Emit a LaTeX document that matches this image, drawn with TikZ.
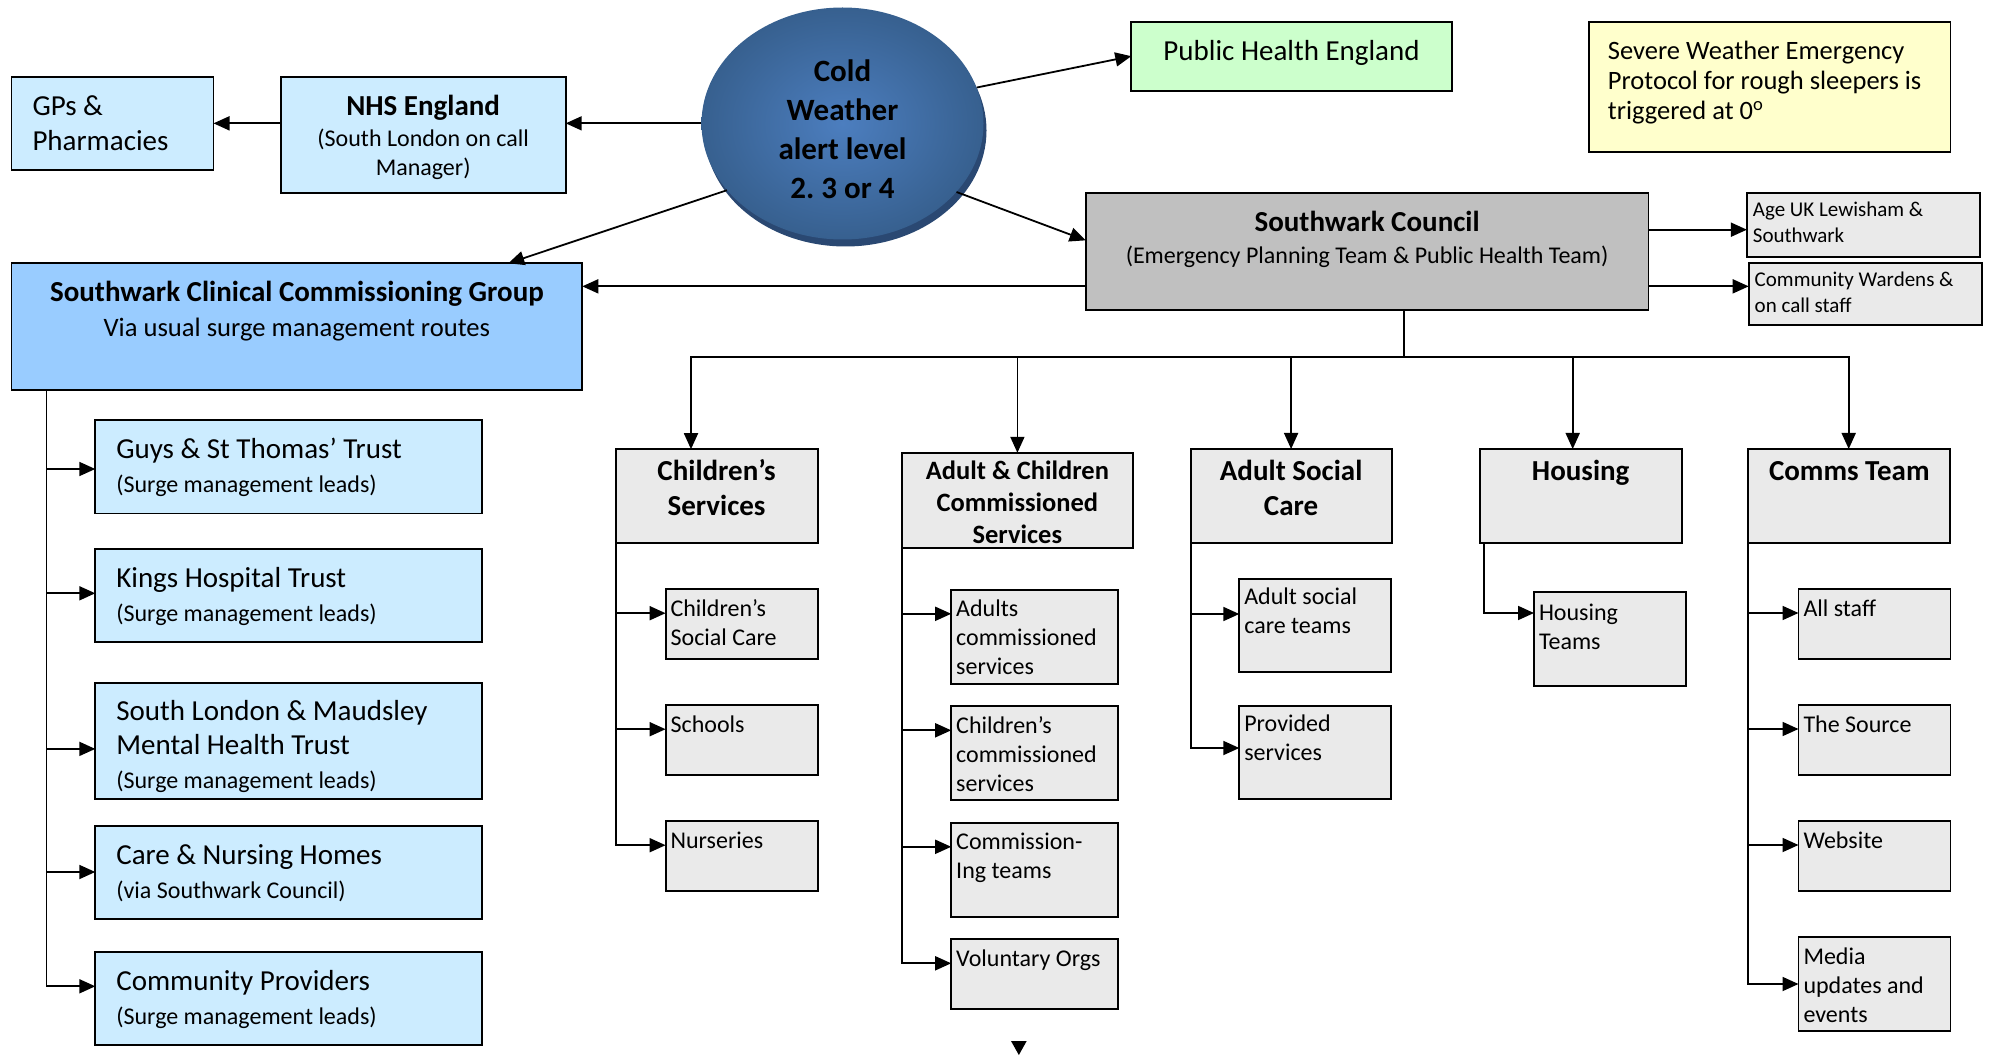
\documentclass[tikz,border=0pt]{standalone}
\usepackage{fontspec}
\setmainfont{Carlito}
\usepackage{tikz}
\usetikzlibrary{arrows.meta,positioning,shapes.geometric,shadows}
\definecolor{nhsblue}{HTML}{CCECFF}
\definecolor{ccgblue}{HTML}{99CCFF}
\definecolor{phegreen}{HTML}{CCFFCC}
\definecolor{swepyellow}{HTML}{FFFFCC}
\definecolor{councilgrey}{HTML}{C0C0C0}
\definecolor{cellgrey}{HTML}{EAEAEA}
\definecolor{alertlight}{HTML}{4C7EBF}
\definecolor{alertdark}{HTML}{37608F}
\definecolor{alertshade}{HTML}{2A4872}
\newcommand\txtL{\fontsize{29}{35}\selectfont}
\newcommand\txtM{\fontsize{26.5}{30}\selectfont}
\newcommand\txtS{\fontsize{24}{29}\selectfont}
\newcommand\txtXS{\fontsize{21}{26.7}\selectfont}
\frenchspacing
\tikzset{
  box/.style={draw=black, line width=1.8pt, outer sep=0pt, anchor=north west, inner xsep=5pt, inner ysep=0pt, align=flush left},
  trust/.style={box, fill=nhsblue, inner xsep=21pt, text width=345pt, text height=38pt, text depth=#1, font=\fontsize{29}{34}\selectfont},
  trust/.default=55pt,
  head/.style={box, fill=cellgrey, align=flush center, text width=192pt, text height=31pt, text depth=63pt, font=\txtL\bfseries},
  cell/.style={box, fill=cellgrey, text width=142pt, text height=27pt, text depth=#1, font=\txtS},
  cell/.default=43pt,
  alert/.style={ellipse, inner sep=0pt, minimum width=282pt, minimum height=232pt, inner color=alertlight, outer color=alertdark,
    drop shadow={fill=alertshade, opacity=1, shadow xshift=3pt, shadow yshift=-7pt},
    align=flush center, text width=160pt, text height=22pt, text depth=105.8pt, font=\fontsize{31}{38.9}\selectfont\bfseries},
  arrow/.style={-{Triangle[length=16pt, width=14pt]}, line width=1.8pt},
  twoway/.style={{Triangle[length=16pt, width=14pt]}-{Triangle[length=16pt, width=14pt]}, line width=1.8pt},
  link/.style={line width=1.8pt}
}
\begin{document}
\begin{tikzpicture}[x=1pt, y=1pt, node distance=46pt, font=\txtS]
  \useasboundingbox (0,0) rectangle (1995,-1056);

  \node[alert] (alert) at (842.5,-123.5) {Cold\\Weather\\alert level\\2. 3 or 4};
  \node[box, fill=nhsblue, inner xsep=21pt, text width=160pt, text height=38.7pt, text depth=54.6pt, font=\txtL] (gps) at (11.5,-76.7) {GPs \&\\Pharmacies};
  \node[box, fill=nhsblue, align=flush center, text width=275.1pt, text height=38.7pt, text depth=77.9pt] (nhs) at (280.6,-76.7) {{\txtL\bfseries NHS England}\\[2pt](South London on call\\Manager)};
  \node[box, fill=phegreen, align=flush center, text width=310.5pt, text height=38.7pt, text depth=30.3pt, font=\txtL] (phe) at (1131.3,-21.7) {Public Health England};
  \node[box, fill=swepyellow, inner xsep=19pt, text width=323.6pt, text height=38pt, text depth=92pt, font=\txtM] (swep) at (1588.9,-21.7) {Severe Weather Emergency\\Protocol for rough sleepers is\\triggered at 0\textsuperscript{o}};
  \node[box, fill=ccgblue, align=flush center, text width=560.8pt, text height=38.4pt, text depth=88.3pt, font=\fontsize{26.6}{35}\selectfont] (ccg) at (11.5,-263.3) {{\txtL\bfseries Southwark Clinical Commissioning Group}\\Via usual surge management routes};
  \node[box, fill=councilgrey, align=flush center, text width=552.8pt, text height=39.3pt, text depth=78pt, font=\fontsize{24}{31.7}\selectfont] (council) at (1085.7,-192.7) {{\txtL\bfseries Southwark Council}\\(Emergency Planning Team \& Public Health Team)};
  \node[box, fill=cellgrey, inner xsep=6pt, text width=221.4pt, text height=23.6pt, text depth=40.4pt, font=\txtXS] (ageuk) at (1746.9,-192.7) {Age UK Lewisham \&\\Southwark};
  \node[box, fill=cellgrey, inner xsep=6pt, text width=221.5pt, text height=23pt, text depth=38.7pt, font=\txtXS] (wardens) at (1748.7,-263.3) {Community Wardens \&\\on call staff};

  \node[trust=55.5pt, below right=30pt and 83.8pt of ccg.south west] (guy) {Guys \& St Thomas’ Trust\\{\txtS (Surge management leads)}};
  \node[trust=54.6pt, below=35.8pt of guy] (kng) {Kings Hospital Trust\\{\txtS (Surge management leads)}};
  \node[trust=78.4pt, below=41pt of kng] (slm) {South London \& Maudsley\\Mental Health Trust\\{\txtS (Surge management leads)}};
  \node[trust=55.1pt, below=26.7pt of slm] (cnh) {Care \& Nursing Homes\\{\txtS (via Southwark Council)}};
  \node[trust=54.6pt, below=33.2pt of cnh] (cpr) {Community Providers\\{\txtS (Surge management leads)}};

  \node[head] (cs) at (615.6,-449.2) {Children’s\\Services};
  \node[head, text width=220.4pt, text height=27pt, text depth=68pt, font=\fontsize{26.5}{32}\selectfont\bfseries] (acs) at (902.2,-452.8) {Adult \& Children\\Commissioned\\Services};
  \node[head, text width=191pt] (asc) at (1190.6,-449) {Adult Social\\Care};
  \node[head] (hsg) at (1479.7,-449) {Housing};
  \node[head] (comms) at (1748.3,-449) {Comms Team};

  \node[cell, below right=46pt and 50pt of cs.south west] (csc) {Children’s\\Social Care};
  \node[cell, below=of csc] (sch) {Schools};
  \node[cell, below=of sch] (nur) {Nurseries};

  \node[cell=67pt, text width=156.6pt, below right=42pt and 49pt of acs.south west] (adc) {Adults\\commissioned\\services};
  \node[cell=67pt, text width=156.6pt, below=22.5pt of adc] (chc) {Children’s\\commissioned\\services};
  \node[cell=67pt, text width=156.6pt, below=22.5pt of chc] (cmt) {Commission-\\Ing teams};
  \node[cell, text width=156.6pt, below=22.5pt of cmt] (vol) {Voluntary Orgs};

  \node[cell=68pt, text height=25pt, below right=36pt and 48.7pt of asc.south west] (ast) {Adult social\\care teams};
  \node[cell=68pt, text height=25pt, below=34pt of ast] (prv) {Provided\\services};

  \node[cell=66pt, text height=28pt, below right=49pt and 54.3pt of hsg.south west] (hteam) {Housing\\Teams};

  \node[cell, below right=46pt and 50.2pt of comms.south west] (allst) {All staff};
  \node[cell, below=of allst] (src) {The Source};
  \node[cell, below=of src] (web) {Website};
  \node[cell=67pt, below=of web] (med) {Media\\updates and\\events};

  \draw[arrow] (alert.west |- gps.east) -- (nhs.east |- gps.east);
  \draw[arrow] (nhs.west |- gps.east) -- (gps.east);
  \draw[arrow] (alert.15) -- (phe.west);
  \draw[arrow] (alert.-31) -- ([yshift=11pt]council.west);
  \draw[arrow] (alert.210) -- ([xshift=-74pt]ccg.north east);
  \coordinate (side) at ([yshift=-35pt]council.west);
  \coordinate (agein) at ([yshift=-5pt]ageuk.west);
  \draw[arrow] (side) -- (side -| ccg.east);
  \draw[arrow] (agein -| council.east) -- (agein);
  \draw[arrow] (side -| council.east) -- (side -| wardens.west);

  \coordinate (ccgtrunk) at ([xshift=35pt]ccg.south west);
  \foreach \n/\d in {guy/49pt,kng/44pt,slm/66pt,cnh/46pt}
    \draw[arrow] (ccgtrunk |- \n.north) ++(0,-\d) -- ([yshift=-\d]\n.north west);
  \draw[arrow] (ccgtrunk) |- ([yshift=-34pt]cpr.north west);

  \coordinate (drop) at ([xshift=37pt]council.south);
  \coordinate (busL) at (691,-356.7);
  \coordinate (busR) at (1848.7,-356.7);
  \draw[link] (drop) -- (drop |- busL);
  \draw[twoway] (cs.north -| busL) -- (busL) -- (busR) -- (busR |- comms.north);
  \draw[arrow] (acs.north |- busL) -- (acs.north);
  \draw[arrow] (asc.north |- busL) -- (asc.north);
  \coordinate (hsgin) at ([xshift=-8pt]hsg.north);
  \draw[arrow] (hsgin |- busL) -- (hsgin);

  \foreach \n in {csc,sch}
    \draw[arrow] (cs.south west |- \n.north) ++(0,-24pt) -- ([yshift=-24pt]\n.north west);
  \draw[arrow] (cs.south west) |- ([yshift=-24pt]nur.north west);

  \foreach \n in {adc,chc,cmt}
    \draw[arrow] (acs.south west |- \n.north) ++(0,-24pt) -- ([yshift=-24pt]\n.north west);
  \draw[arrow] (acs.south west) |- ([yshift=-24pt]vol.north west);

  \draw[arrow] (asc.south west |- ast.north) ++(0,-35pt) -- ([yshift=-35pt]ast.north west);
  \draw[arrow] (asc.south west) |- ([yshift=-42pt]prv.north west);

  \draw[arrow] ([xshift=4pt]hsg.south west) |- ([yshift=-21pt]hteam.north west);

  \foreach \n in {allst,src,web}
    \draw[arrow] (comms.south west |- \n.north) ++(0,-24pt) -- ([yshift=-24pt]\n.north west);
  \draw[arrow] (comms.south west) |- ([yshift=-47pt]med.north west);

  \fill (1011,-1041) -- (1026.7,-1041) -- (1018.85,-1055) -- cycle;
\end{tikzpicture}
\end{document}
